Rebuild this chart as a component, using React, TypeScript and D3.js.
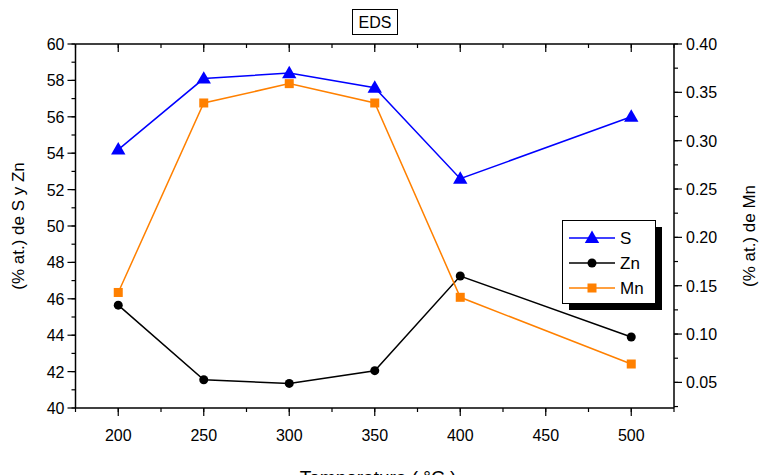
import React from "react";
import * as d3 from "d3";

const temps = [200, 250, 300, 350, 400, 500];
const sValues = [54.2, 58.1, 58.4, 57.6, 52.6, 56.0];
const znValues = [45.65, 41.55, 41.35, 42.05, 47.25, 43.9];
const mnValues = [0.143, 0.339, 0.359, 0.339, 0.138, 0.069];
const xTicks = [200, 250, 300, 350, 400, 450, 500];
const yLeftTicks = [40, 42, 44, 46, 48, 50, 52, 54, 56, 58, 60];
const yRightTicks = [0.05, 0.1, 0.15, 0.2, 0.25, 0.3, 0.35, 0.4];

const W = 763, H = 475;
const L = 75.5, R = 674, T = 44, B = 408;
const FONT = "'Liberation Sans', Arial, Helvetica, sans-serif";

export default function App() {
  const x = d3.scaleLinear().domain([175, 525]).range([L, R]);
  const yL = d3.scaleLinear().domain([40, 60]).range([B, T]);
  const yR = d3.scaleLinear().domain([0.0235, 0.4]).range([B, T]);

  const lineL = (vals: number[]) =>
    d3.line<number>().x((_, i) => x(temps[i])).y((d) => yL(d))(vals) || "";
  const lineR = (vals: number[]) =>
    d3.line<number>().x((_, i) => x(temps[i])).y((d) => yR(d))(vals) || "";

  const xMinor = d3.range(175, 526, 25);
  const yLMinor = d3.range(40, 60.01, 1);
  const yRMinor = d3.range(0.025, 0.4001, 0.025);

  const tri = (cx: number, cy: number, s: number, color: string, k: string) => (
    <path key={k} d={`M${cx},${cy - s * 0.62} L${cx + s * 0.6},${cy + s * 0.42} L${cx - s * 0.6},${cy + s * 0.42} Z`} fill={color} />
  );

  const blue = "#0000ff";
  const orange = "#ff8000";

  return (
    <svg width={W} height={H} style={{ position: "absolute", left: 0, top: 0, background: "#fff" }} fontFamily={FONT}>
      {/* title */}
      <rect x={352.5} y={9.5} width={45} height={25} fill="#fff" stroke="#000" strokeWidth={1} />
      <text x={375} y={28} textAnchor="middle" fontSize={16}>EDS</text>

      {/* frame */}
      <line x1={L} y1={T} x2={R} y2={T} stroke="#000" strokeWidth={1.5} />
      <line x1={L} y1={B} x2={R} y2={B} stroke="#000" strokeWidth={1.5} />
      <line x1={L} y1={T} x2={L} y2={B} stroke="#000" strokeWidth={1.5} />
      <line x1={R} y1={T} x2={R} y2={B} stroke="#000" strokeWidth={1.5} />

      {/* x ticks bottom & top */}
      {xMinor.map((v) => (
        <g key={"xm" + v}>
          <line x1={x(v)} x2={x(v)} y1={B} y2={B + 4} stroke="#000" strokeWidth={1.2} />
          <line x1={x(v)} x2={x(v)} y1={T} y2={T + 4} stroke="#000" strokeWidth={1.2} />
        </g>
      ))}
      {xTicks.map((v) => (
        <g key={"x" + v}>
          <line x1={x(v)} x2={x(v)} y1={B} y2={B + 8} stroke="#000" strokeWidth={1.2} />
          <line x1={x(v)} x2={x(v)} y1={T} y2={T + 8} stroke="#000" strokeWidth={1.2} />
          <text x={x(v)} y={B + 32.5} textAnchor="middle" fontSize={16}>{v}</text>
        </g>
      ))}

      {/* left y */}
      {yLMinor.map((v) => (
        <line key={"ylm" + v} x1={L - 4} x2={L} y1={yL(v)} y2={yL(v)} stroke="#000" strokeWidth={1.2} />
      ))}
      {yLeftTicks.map((v) => (
        <g key={"yl" + v}>
          <line x1={L - 8} x2={L} y1={yL(v)} y2={yL(v)} stroke="#000" strokeWidth={1.2} />
          <text x={L - 11} y={yL(v) + 6} textAnchor="end" fontSize={16}>{v}</text>
        </g>
      ))}

      {/* right y */}
      {yRMinor.map((v) => (
        <line key={"yrm" + v} x1={R} x2={R + 4} y1={yR(v)} y2={yR(v)} stroke="#000" strokeWidth={1.2} />
      ))}
      {yRightTicks.map((v) => (
        <g key={"yr" + v}>
          <line x1={R} x2={R + 8} y1={yR(v)} y2={yR(v)} stroke="#000" strokeWidth={1.2} />
          <text x={R + 12} y={yR(v) + 6} textAnchor="start" fontSize={16}>{v.toFixed(2)}</text>
        </g>
      ))}

      {/* axis labels */}
      <text transform={`translate(24,226) rotate(-90)`} textAnchor="middle" fontSize={17}>(% at.) de S y Zn</text>
      <text transform={`translate(755,236) rotate(-90)`} textAnchor="middle" fontSize={17}>(% at.) de Mn</text>
      <text x={378} y={484} textAnchor="middle" fontSize={19}>Temperatura ( °C )</text>

      {/* series */}
      <path d={lineL(sValues)} fill="none" stroke={blue} strokeWidth={1.5} />
      <path d={lineL(znValues)} fill="none" stroke="#000" strokeWidth={1.5} />
      <path d={lineR(mnValues)} fill="none" stroke={orange} strokeWidth={1.5} />
      {sValues.map((v, i) => tri(x(temps[i]), yL(v), 12, blue, "s" + i))}
      {znValues.map((v, i) => (
        <circle key={"z" + i} cx={x(temps[i])} cy={yL(v)} r={4.5} fill="#000" />
      ))}
      {mnValues.map((v, i) => (
        <rect key={"m" + i} x={x(temps[i]) - 4.5} y={yR(v) - 4.5} width={9} height={9} fill={orange} />
      ))}

      {/* legend */}
      <rect x={569} y={227} width={93} height={83} fill="#000" />
      <rect x={562.5} y={220.5} width={93} height={83} fill="#fff" stroke="#000" strokeWidth={1} />
      {[
        { name: "S", color: blue, y: 238 },
        { name: "Zn", color: "#000", y: 263 },
        { name: "Mn", color: orange, y: 288 },
      ].map((e, i) => (
        <g key={"lg" + i}>
          <line x1={569} x2={615} y1={e.y} y2={e.y} stroke={e.color} strokeWidth={1.5} />
          {i === 0 && tri(592, e.y, 12, e.color, "lt")}
          {i === 1 && <circle cx={592} cy={e.y} r={4.5} fill={e.color} />}
          {i === 2 && <rect x={587.5} y={e.y - 4.5} width={9} height={9} fill={e.color} />}
          <text x={620} y={e.y + 6} fontSize={17}>{e.name}</text>
        </g>
      ))}
    </svg>
  );
}
